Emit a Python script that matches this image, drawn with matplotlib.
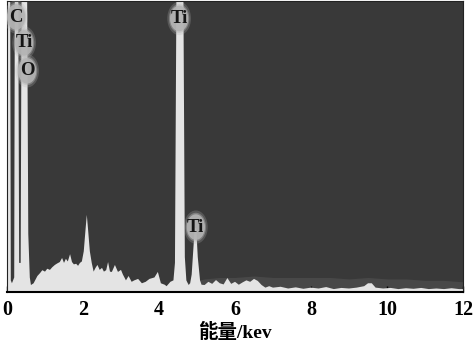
import matplotlib
matplotlib.use("Agg")
import matplotlib.pyplot as plt
from matplotlib.patches import Ellipse
import numpy as np

# ---- data (counts as % of plot height; tall peaks clip) ----
energy = [0.00, 0.03, 0.08, 0.10, 0.13, 0.19, 0.21, 0.29, 0.32, 0.36, 0.39, 0.52,
          0.56, 0.60, 0.63, 0.70, 0.74, 0.80, 0.87, 0.93, 1.00, 1.06, 1.13, 1.19,
          1.26, 1.32, 1.39, 1.45, 1.50, 1.55, 1.60, 1.66, 1.71, 1.76, 1.82, 1.87,
          1.92, 1.97, 2.02, 2.07, 2.10, 2.13, 2.18, 2.23, 2.28, 2.33, 2.38, 2.44,
          2.50, 2.55, 2.61, 2.66, 2.71, 2.76, 2.84, 2.92, 3.00, 3.05, 3.13, 3.20,
          3.28, 3.35, 3.45, 3.55, 3.65, 3.75, 3.88, 3.97, 4.05, 4.15, 4.20, 4.30,
          4.38, 4.42, 4.47, 4.63, 4.68, 4.72, 4.78, 4.82, 4.86, 4.90, 4.94, 4.98,
          5.02, 5.08, 5.12, 5.20, 5.30, 5.40, 5.50, 5.60, 5.70, 5.80, 5.90, 6.00,
          6.10, 6.20, 6.30, 6.40, 6.50, 6.60, 6.70, 6.80, 6.90, 7.00, 7.20, 7.40,
          7.60, 7.80, 8.00, 8.20, 8.40, 8.60, 8.80, 9.00, 9.20, 9.40, 9.50, 9.60,
          9.70, 9.90, 10.10, 10.30, 10.50, 10.70, 10.90, 11.10, 11.30, 11.50, 11.70,
          11.90, 12.00]
counts = [2, 130, 130, 4, 3, 5, 130, 130, 10, 10, 130, 130,
          20, 5, 2.4, 3, 4, 5.5, 6.5, 7.5, 7, 8, 7.6, 8.5,
          9.3, 9.8, 10.3, 11.7, 10, 11.4, 10.5, 13, 10.3, 9.5, 9.7, 9,
          10, 10.5, 14, 22, 26.5, 22, 14, 10, 7, 8.3, 9.3, 7.6,
          8.3, 7, 7.5, 10.3, 7, 6.9, 9.3, 6.9, 7.6, 6, 4, 5.5,
          3.5, 4, 4.5, 3, 3.5, 4.5, 5, 6.9, 3, 2.5, 2, 3.5,
          4, 10, 130, 130, 12, 4, 2.4, 3, 6, 14, 22, 22,
          12, 4, 2.5, 2.4, 3.5, 2.8, 4.1, 3, 2.6, 4.8, 2.8, 3.5,
          2.5, 3.3, 4, 3.5, 4.5, 3.8, 2.4, 1.5, 2, 1.5, 1.8, 1.2,
          1.6, 1.1, 1.5, 1.2, 1.7, 1.0, 1.4, 1.2, 1.5, 2.0, 3.0, 3.0,
          1.5, 1.2, 1.4, 1.0, 1.3, 1.1, 1.4, 1.0, 1.2, 1.0, 1.3,
          1.0, 1.0]

# speckled mid-grey band above the baseline
band_energy = [4.72, 5.2, 5.6, 6.0, 6.5, 7.0, 7.5, 8.0, 8.5, 9.0, 9.5, 10.0, 10.5, 11.0, 11.5, 12.0]
band_top = [3.0, 4.5, 5.0, 5.0, 5.5, 5.0, 5.0, 5.0, 5.0, 4.5, 5.0, 4.5, 4.5, 4.0, 4.0, 3.5]

peak_labels = ["C", "Ti", "O", "Ti", "Ti"]
label_x = [0.24, 0.45, 0.53, 4.53, 4.97]
label_y = [94.5, 85.6, 76.0, 94.0, 22.3]

xticks = [0, 2, 4, 6, 8, 10, 12]
xlabel = "能量/kev"

# ---- figure ----
fig = plt.figure(figsize=(4.76, 3.43), dpi=100)
ax = fig.add_axes([7 / 476, 1 - 292 / 343, 456 / 476, 291 / 343])
ax.set_facecolor("#393939")

ax.fill_between(band_energy, 0, band_top, color="#484848", lw=0, zorder=1)
ax.fill_between(energy, 0, counts, color="#e4e4e4", lw=0, zorder=2)

for t, x, y in zip(peak_labels, label_x, label_y):
    for k, (sc, a) in enumerate([(1.3, 0.25), (1.12, 0.45), (1.0, 0.9)]):
        ax.add_patch(Ellipse((x, y), 0.48 * sc, 8.8 * sc, facecolor="#b4b4b4",
                             edgecolor="none", alpha=a, zorder=3 + k * 0.1))
    ax.text(x, y, t, ha="center", va="center", fontsize=13.5, fontweight="bold",
            family="Liberation Serif", color="#151515", zorder=4)

ax.set_xlim(0, 12)
ax.set_ylim(0, 100)
ax.set_yticks([])
ax.set_xticks(xticks)
ax.set_xticklabels([str(v) for v in xticks], family="Liberation Serif",
                   fontweight="bold", fontsize=14.5)
ax.tick_params(axis="x", direction="in", length=4, width=1, pad=6, color="black")
for s in ["left", "right", "top"]:
    ax.spines[s].set_color("#222222")
    ax.spines[s].set_linewidth(0.8)
ax.spines["bottom"].set_linewidth(1.5)
ax.spines["bottom"].set_color("black")
ax.set_xlabel(xlabel, family=["Liberation Serif", "Noto Sans CJK SC"],
              fontweight="bold", fontsize=14, labelpad=2)

fig.savefig("out.png", dpi=100)
